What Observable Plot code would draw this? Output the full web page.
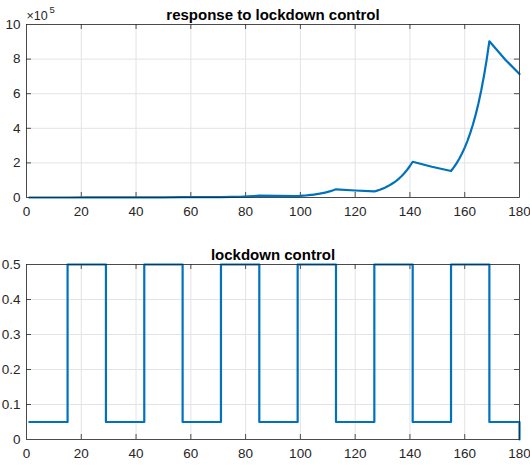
<!DOCTYPE html>
<html>
<head>
<meta charset="utf-8">
<script src="https://cdn.jsdelivr.net/npm/d3@7"></script>
<script src="https://cdn.jsdelivr.net/npm/@observablehq/plot@0.6"></script>
<style>
  html, body { margin: 0; padding: 0; background: #fff; }
  #chart svg { display: block; }
</style>
</head>
<body>
<div id="chart"></div>
<script>
// ---- data ----
const topTitle = "response to lockdown control";
const bottomTitle = "lockdown control";
const xTicks = [0, 20, 40, 60, 80, 100, 120, 140, 160, 180];
const yTopTicks = [0, 2, 4, 6, 8, 10];
const yBottomTicks = [0, 0.1, 0.2, 0.3, 0.4, 0.5];
const expLabel = "×10";
const expPower = "5";

// response (units of 10^5)
const responseDays = [1, 15, 22, 29, 43, 50, 57, 71, 75, 78, 81, 83, 85, 92,
  99, 100, 101, 102, 103, 104, 105, 106, 107, 108, 109, 110, 111, 112, 113,
  120,
  127, 128, 129, 130, 131, 132, 133, 134, 135, 136, 137, 138, 139, 140, 141,
  148,
  155, 156, 157, 158, 159, 160, 161, 162, 163, 164, 165, 166, 167, 168, 169,
  175, 180];
const responseValues = [0.0013, 0.0010, 0.0024, 0.0057, 0.0042, 0.0102, 0.0249, 0.0184, 0.0305, 0.0447, 0.0654, 0.0843, 0.1086, 0.0934,
  0.080, 0.0908, 0.1031, 0.1170, 0.1329, 0.1508, 0.1712, 0.1944, 0.2206, 0.2505, 0.2843, 0.3228, 0.3664, 0.4159, 0.4722,
  0.406,
  0.350, 0.3973, 0.4510, 0.5120, 0.5812, 0.6598, 0.7490, 0.8503, 0.9653, 1.0957, 1.2439, 1.4121, 1.6030, 1.8197, 2.0658,
  1.777,
  1.53, 1.737, 1.972, 2.238, 2.541, 2.884, 3.274, 3.717, 4.220, 4.790, 5.438, 6.173, 7.007, 7.955, 9.030,
  7.937, 7.14];

// lockdown control (step function, value holds until next day listed)
const controlDays = [1, 15, 29, 43, 57, 71, 85, 99, 113, 127, 141, 155, 169, 180];
const controlValues = [0.05, 0.5, 0.05, 0.5, 0.05, 0.5, 0.05, 0.5, 0.05, 0.5, 0.05, 0.5, 0.05, 0];

// ---- build ----
const responseData = responseDays.map((d, i) => ({day: d, value: responseValues[i]}));
const controlData = controlDays.map((d, i) => ({day: d, value: controlValues[i]}));

const W = 530, H = 233, ML = 26, MR = 11;
const frameW = W - ML - MR;
const blue = "#0072BD";
const ink = "#262626";
const gridColor = "#e3e3e3";
const font = "'Liberation Sans', Arial, Helvetica, sans-serif";

function panel({data, yDomain, yTicks, title, marginTop, marginBottom, curve, extra = []}) {
  const frameH = H - marginTop - marginBottom;
  return Plot.plot({
    width: W, height: H,
    marginTop, marginBottom, marginLeft: ML, marginRight: MR,
    style: {fontFamily: font, fontSize: "13.5px", color: ink, background: "#fff", overflow: "visible"},
    x: {domain: [0, 180], label: null},
    y: {domain: yDomain, label: null},
    marks: [
      Plot.gridX(xTicks, {stroke: gridColor, strokeOpacity: 1}),
      Plot.gridY(yTicks, {stroke: gridColor, strokeOpacity: 1}),
      // inward MATLAB-style ticks
      Plot.ruleX(xTicks.slice(1, -1), {stroke: ink, strokeWidth: 0.8, insetTop: frameH - 5}),
      Plot.ruleX(xTicks.slice(1, -1), {stroke: ink, strokeWidth: 0.8, insetBottom: frameH - 5}),
      Plot.ruleY(yTicks.slice(1, -1), {stroke: ink, strokeWidth: 0.8, insetRight: frameW - 5}),
      Plot.ruleY(yTicks.slice(1, -1), {stroke: ink, strokeWidth: 0.8, insetLeft: frameW - 5}),
      Plot.axisX(xTicks, {tickSize: 0, tickPadding: 9, fill: ink, label: null, tickFormat: d => String(d)}),
      Plot.axisY(yTicks, {tickSize: 0, tickPadding: 6, fill: ink, label: null, tickFormat: d => String(d)}),
      Plot.line(data, {x: "day", y: "value", stroke: blue, strokeWidth: 2.2, curve}),
      Plot.frame({stroke: ink, strokeWidth: 0.8}),
      Plot.text([title], {frameAnchor: "top", lineAnchor: "bottom", dy: -5, fontWeight: "bold", fontSize: 15, fill: "#000"}),
      ...extra
    ]
  });
}

const topPlot = panel({
  data: responseData, yDomain: [0, 10], yTicks: yTopTicks, title: topTitle,
  marginTop: 24, marginBottom: 36, curve: "linear",
  extra: [
    Plot.text([expLabel], {frameAnchor: "top-left", textAnchor: "start", lineAnchor: "bottom", dy: -5, fontSize: 12.5, fill: ink}),
    Plot.text([expPower], {frameAnchor: "top-left", textAnchor: "start", lineAnchor: "bottom", dx: 23, dy: -12, fontSize: 9.5, fill: ink})
  ]
});

const bottomPlot = panel({
  data: controlData, yDomain: [0, 0.5], yTicks: yBottomTicks, title: bottomTitle,
  marginTop: 31, marginBottom: 27, curve: "step-after"
});

const root = document.getElementById("chart");
root.appendChild(topPlot);
root.appendChild(bottomPlot);
</script>
</body>
</html>
